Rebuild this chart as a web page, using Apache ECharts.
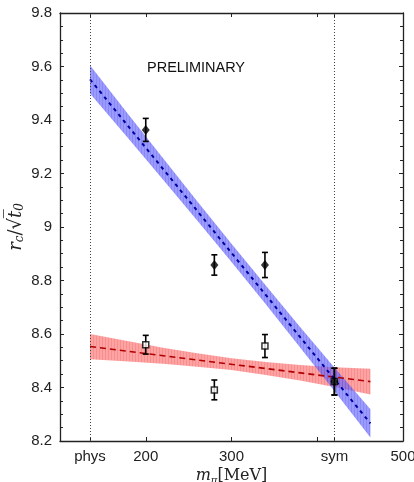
<!DOCTYPE html>
<html><head><meta charset="utf-8">
<script src="https://cdn.jsdelivr.net/npm/echarts@6/dist/echarts.min.js"></script>
<style>html,body{margin:0;padding:0;background:#fff}#c{width:414px;height:482px}</style>
</head><body><div id="c"></div>
<script>
// ---- data ----
const xMin = 100, xMax = 500;
const physX = 135, symX = 420;
const xTickValues = [135, 200, 300, 400, 420, 500];
const xLabelValues = [135, 200, 300, 420, 500];
const xLabelText = ['phys', '200', '300', 'sym', '500'];
const yMin = 8.2, yMax = 9.8, yStep = 0.2;

const bandX    = [135, 180, 220, 260, 300, 340, 380, 420, 462];
const blueLow  = [9.499, 9.330, 9.178, 9.024, 8.869, 8.711, 8.550, 8.387, 8.213];
const blueHigh = [9.605, 9.420, 9.258, 9.096, 8.937, 8.781, 8.626, 8.475, 8.319];
const redLow   = [8.506, 8.497, 8.489, 8.478, 8.465, 8.447, 8.426, 8.402, 8.374];
const redHigh  = [8.600, 8.573, 8.549, 8.528, 8.509, 8.495, 8.484, 8.476, 8.470];

const fitX    = [135, 462];
const blueFit = [9.552, 8.266];
const redFit  = [8.553, 8.422];

const ptX        = [200, 280, 339, 420];
const diamondY   = [9.363, 8.858, 8.858, 8.422];
const diamondErr = [0.043, 0.038, 0.047, 0.050];
const squareY    = [8.560, 8.391, 8.555, 8.422];
const squareErr  = [0.035, 0.037, 0.043, 0.050];

// ---- helpers ----
function stripes(base, line) {
  const cv = document.createElement('canvas');
  cv.width = 3; cv.height = 4;
  const g = cv.getContext('2d');
  g.fillStyle = base; g.fillRect(0, 0, 3, 4);
  g.fillStyle = line; g.fillRect(0, 0, 1, 4);
  return cv;
}
function bandSeries(low, high, base, line, opacity, z) {
  const pat = stripes(base, line);
  return {
    type: 'custom', z: z, silent: true, clip: true,
    data: bandX.map((x, i) => [x, low[i], high[i]]),
    renderItem: function (params, api) {
      if (params.dataIndex !== 0) return null;
      const pts = [];
      for (let i = 0; i < bandX.length; i++) pts.push(api.coord([bandX[i], high[i]]));
      for (let i = bandX.length - 1; i >= 0; i--) pts.push(api.coord([bandX[i], low[i]]));
      return { type: 'polygon', shape: { points: pts },
        style: { fill: { image: pat, repeat: 'repeat' }, opacity: opacity, stroke: null } };
    }
  };
}
function errSeries(ys, es, z) {
  return {
    type: 'custom', z: z, silent: true,
    data: ptX.map((x, i) => [x, ys[i], es[i]]),
    renderItem: function (params, api) {
      const x = api.value(0), y = api.value(1), e = api.value(2);
      const top = api.coord([x, y + e]), bot = api.coord([x, y - e]);
      const w = 3;
      const st = { stroke: '#000', lineWidth: 1.6 };
      return { type: 'group', children: [
        { type: 'line', shape: { x1: top[0], y1: top[1], x2: bot[0], y2: bot[1] }, style: st },
        { type: 'line', shape: { x1: top[0] - w, y1: top[1], x2: top[0] + w, y2: top[1] }, style: st },
        { type: 'line', shape: { x1: bot[0] - w, y1: bot[1], x2: bot[0] + w, y2: bot[1] }, style: st }
      ] };
    }
  };
}

const frame = { show: true, lineStyle: { color: '#222', width: 1.3 } };
const labelFont = { fontFamily: 'Liberation Sans, Arial, sans-serif', fontSize: 15, color: '#222' };

const chart = echarts.init(document.getElementById('c'), null, { renderer: 'canvas' });
chart.setOption({
  animation: false,
  backgroundColor: '#fff',
  grid: { left: 60, right: 11, top: 13, bottom: 41, containLabel: false, outerBoundsMode: 'none' },
  xAxis: [{
    type: 'value', min: xMin, max: xMax, position: 'bottom',
    axisLine: frame, splitLine: { show: false },
    axisTick: { show: true, inside: true, length: 4, customValues: xTickValues, lineStyle: { color: '#222', width: 1 } },
    axisLabel: Object.assign({ margin: 8, customValues: xLabelValues,
      formatter: v => { const i = xLabelValues.indexOf(v); return i >= 0 ? xLabelText[i] : ''; } }, labelFont),
    name: '{m|m}{s|π}{n|[MeV]}', nameLocation: 'middle', nameGap: 26, nameMoveOverlap: false,
    nameTextStyle: { lineHeight: 18, rich: {
      m: { fontFamily: 'DejaVu Serif, serif', fontStyle: 'italic', fontSize: 16, lineHeight: 18, color: '#222' },
      s: { fontFamily: 'DejaVu Serif, serif', fontStyle: 'italic', fontSize: 10, lineHeight: 12, color: '#222', verticalAlign: 'bottom' },
      n: { fontFamily: 'DejaVu Serif, serif', fontSize: 16, lineHeight: 18, color: '#222' } } }
  }, {
    type: 'value', min: xMin, max: xMax, position: 'top',
    axisLine: frame, splitLine: { show: false },
    axisTick: { show: true, inside: true, length: 4, customValues: xTickValues, lineStyle: { color: '#222', width: 1 } },
    axisLabel: { show: false }
  }],
  yAxis: [{
    type: 'value', min: yMin, max: yMax, interval: yStep, position: 'left',
    axisLine: frame, splitLine: { show: false },
    axisTick: { show: true, inside: true, length: 4, lineStyle: { color: '#222', width: 1 } },
    minorTick: { show: true, splitNumber: 4, length: 3, lineStyle: { color: '#222', width: 1 } },
    axisLabel: Object.assign({ margin: 8, formatter: v => (Math.abs(v - 9) < 1e-9 ? '9' : v.toFixed(1)) }, labelFont),
    name: '{i|r}{s|c}{n|/√}{i|t\u0305}{s|0}', nameLocation: 'middle', nameGap: 34, nameMoveOverlap: false,
    nameTextStyle: { rich: {
      i: { fontFamily: 'DejaVu Serif, serif', fontStyle: 'italic', fontSize: 18, color: '#222' },
      s: { fontFamily: 'DejaVu Serif, serif', fontStyle: 'italic', fontSize: 12, color: '#222', verticalAlign: 'bottom', padding: [7, 0, 0, 0] },
      n: { fontFamily: 'DejaVu Serif, serif', fontSize: 18, color: '#222' } } }
  }, {
    type: 'value', min: yMin, max: yMax, interval: yStep, position: 'right',
    axisLine: frame, splitLine: { show: false },
    axisTick: { show: true, inside: true, length: 4, lineStyle: { color: '#222', width: 1 } },
    minorTick: { show: true, splitNumber: 4, length: 3, lineStyle: { color: '#222', width: 1 } },
    axisLabel: { show: false }
  }],
  graphic: [{
    type: 'text', left: 147, top: 60, silent: true,
    style: { text: 'PRELIMINARY', font: '14.5px "Liberation Sans", Arial, sans-serif', fill: '#111' }
  }],
  series: [
    bandSeries(redLow, redHigh, 'rgb(255,100,100)', 'rgb(240,70,70)', 0.6, 1),
    bandSeries(blueLow, blueHigh, 'rgb(100,100,255)', 'rgb(75,75,240)', 0.65, 2),
    {
      type: 'line', z: 3, silent: true, symbol: 'none',
      data: fitX.map((x, i) => [x, redFit[i]]),
      lineStyle: { color: '#b00000', width: 1.6, type: [6, 4] }
    },
    {
      type: 'line', z: 3, silent: true, symbol: 'none',
      data: fitX.map((x, i) => [x, blueFit[i]]),
      lineStyle: { color: '#0000a0', width: 2, type: [3.5, 4] },
      markLine: { silent: true, symbol: 'none', label: { show: false },
        lineStyle: { type: [1, 2], color: '#444', width: 1 },
        data: [{ xAxis: physX }, { xAxis: symX }] }
    },
    errSeries(squareY, squareErr, 4),
    {
      type: 'scatter', z: 5, silent: true, symbol: 'rect', symbolSize: 6,
      data: ptX.map((x, i) => [x, squareY[i]]),
      itemStyle: { color: '#fff', borderColor: '#000', borderWidth: 1.5 }
    },
    errSeries(diamondY, diamondErr, 6),
    {
      type: 'scatter', z: 7, silent: true, symbol: 'diamond', symbolSize: [8, 10],
      data: ptX.map((x, i) => [x, diamondY[i]]),
      itemStyle: { color: '#000' }
    }
  ]
});
</script></body></html>
